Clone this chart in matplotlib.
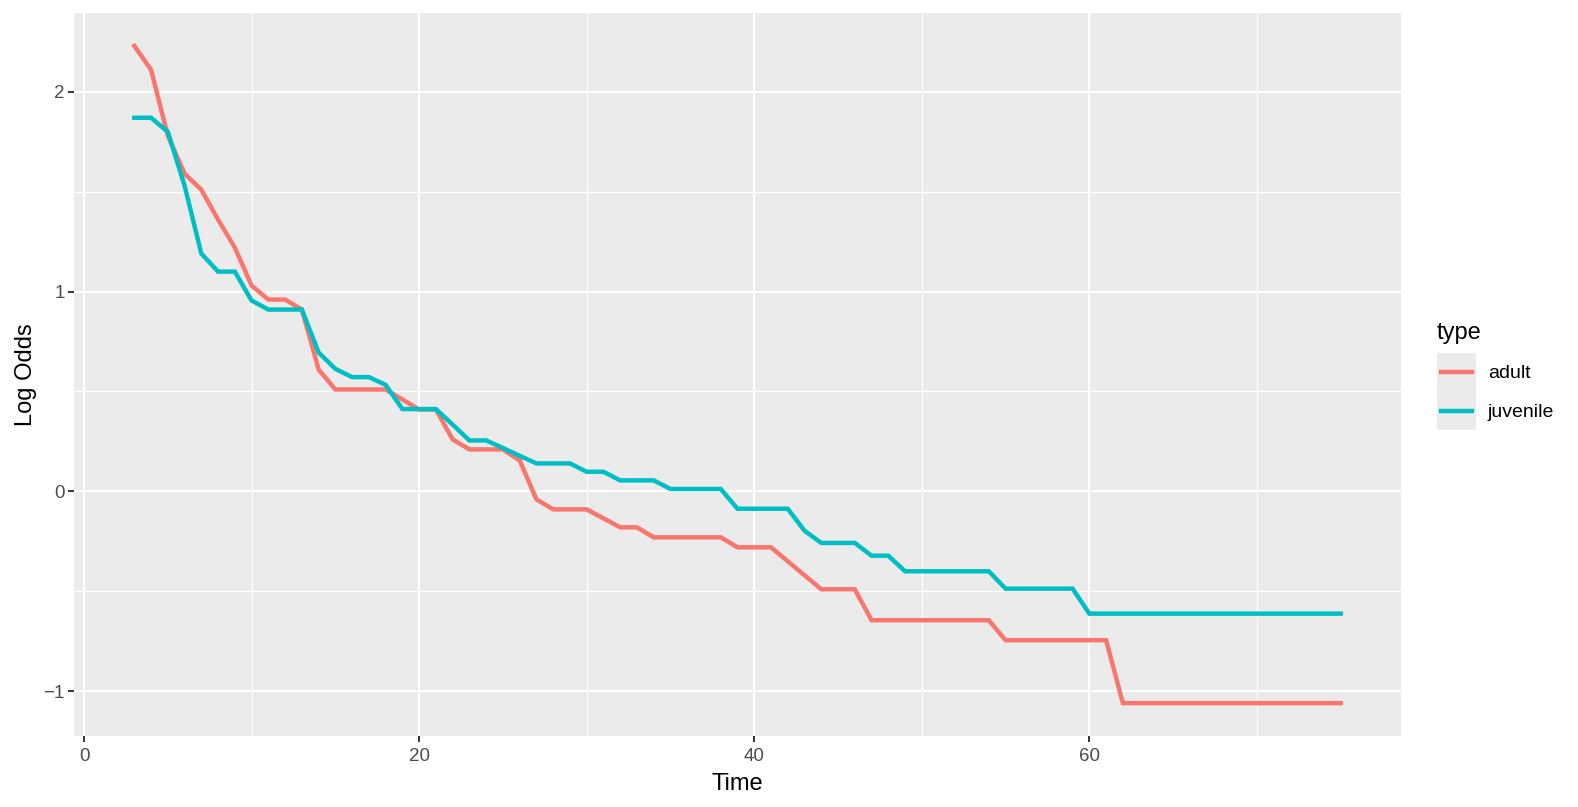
import matplotlib
matplotlib.use("Agg")
import matplotlib.pyplot as plt
from matplotlib.lines import Line2D
from matplotlib.patches import Rectangle
from matplotlib.legend_handler import HandlerBase
from matplotlib.ticker import MultipleLocator
import numpy as np

plt.rcParams['font.family'] = ['Liberation Sans', 'DejaVu Sans']

# data
time = list(range(3, 76))
adult = [2.23, 2.11, 1.78, 1.59, 1.51, 1.36, 1.22, 1.03, 0.96, 0.96,
         0.91, 0.61, 0.51, 0.51, 0.51, 0.51, 0.46, 0.41, 0.41, 0.26,
         0.21, 0.21, 0.21, 0.155, -0.04, -0.09, -0.09, -0.09, -0.135, -0.18,
         -0.18, -0.23, -0.23, -0.23, -0.23, -0.23, -0.28, -0.28, -0.28, -0.35,
         -0.42, -0.49, -0.49, -0.49, -0.645, -0.645, -0.645, -0.645, -0.645, -0.645,
         -0.645, -0.645, -0.745, -0.745, -0.745, -0.745, -0.745, -0.745, -0.745, -1.06,
         -1.06, -1.06, -1.06, -1.06, -1.06, -1.06, -1.06, -1.06, -1.06, -1.06,
         -1.06, -1.06, -1.06]
juvenile = [1.87, 1.87, 1.80, 1.53, 1.19, 1.10, 1.10, 0.955, 0.91, 0.91,
            0.91, 0.695, 0.613, 0.572, 0.572, 0.533, 0.412, 0.412, 0.412, 0.334,
            0.255, 0.255, 0.217, 0.178, 0.140, 0.140, 0.140, 0.098, 0.098, 0.055,
            0.055, 0.055, 0.012, 0.012, 0.012, 0.012, -0.087, -0.087, -0.087, -0.087,
            -0.197, -0.258, -0.258, -0.258, -0.322, -0.322, -0.40, -0.40, -0.40, -0.40,
            -0.40, -0.40, -0.487, -0.487, -0.487, -0.487, -0.487, -0.612, -0.612, -0.612,
            -0.612, -0.612, -0.612, -0.612, -0.612, -0.612, -0.612, -0.612, -0.612, -0.612,
            -0.612, -0.612, -0.612]
types = ['adult', 'juvenile']
colors = ['#F8766D', '#00BFC4']


class KeyHandler(HandlerBase):
    # ggplot-like legend key: grey square with a centred line
    def create_artists(self, legend, orig_handle, xdescent, ydescent,
                       width, height, fontsize, trans):
        rect = Rectangle((-xdescent, -ydescent), width, height,
                         facecolor='#EBEBEB', edgecolor='none', transform=trans)
        y = -ydescent + height / 2
        inset = width * 0.1
        line = Line2D([-xdescent + inset, -xdescent + width - inset], [y, y],
                      color=orig_handle.get_color(), lw=orig_handle.get_linewidth(),
                      transform=trans)
        return [rect, line]


W, H = 1578, 807
fig = plt.figure(figsize=(W / 100, H / 100), dpi=100)
fig.subplots_adjust(left=74 / W, right=1401 / W, top=1 - 13 / H, bottom=1 - 736 / H)
ax = fig.add_subplot(111)
ax.set_facecolor('#EBEBEB')

lw = 3.2
lines = []
for ys, c, name in zip([adult, juvenile], colors, types):
    ln, = ax.plot(time, ys, color=c, lw=lw, solid_joinstyle='miter', zorder=3, label=name)
    lines.append(ln)

# ggplot style 5% expansion
allx = np.array(time)
ally = np.concatenate([adult, juvenile])
dx = (allx.max() - allx.min()) * 0.05
dy = (ally.max() - ally.min()) * 0.05
ax.set_xlim(allx.min() - dx, allx.max() + dx)
ax.set_ylim(ally.min() - dy, ally.max() + dy)

ax.xaxis.set_major_locator(MultipleLocator(20))
ax.xaxis.set_minor_locator(MultipleLocator(10))
ax.yaxis.set_major_locator(MultipleLocator(1))
ax.yaxis.set_minor_locator(MultipleLocator(0.5))
ax.grid(which='major', color='white', lw=1.5, zorder=0)
ax.grid(which='minor', color='white', lw=0.8, zorder=0)
ax.set_axisbelow(True)
for s in ax.spines.values():
    s.set_visible(False)

ax.tick_params(which='major', length=4, width=1.4, color='#333333',
               labelsize=13.5, labelcolor='#4D4D4D', pad=2.5)
ax.tick_params(axis='x', which='major', pad=4.6)
ax.tick_params(which='minor', length=0)

ax.set_xlabel('Time', fontsize=17, color='black', labelpad=5.5)
ax.set_ylabel('Log Odds', fontsize=17, color='black', labelpad=5)

fs = 14
leg = ax.legend(lines, types, loc='upper left',
                bbox_to_anchor=(1437 / W, 1 - 322 / H), bbox_transform=fig.transFigure,
                title='type', title_fontsize=17, fontsize=fs, frameon=False,
                handlelength=2.0, handleheight=2.67, handletextpad=0.62,
                labelspacing=0, borderpad=0, borderaxespad=0, alignment='left',
                handler_map={Line2D: KeyHandler()})
leg._legend_box.sep = 6.5

fig.savefig('out.png', dpi=100)
